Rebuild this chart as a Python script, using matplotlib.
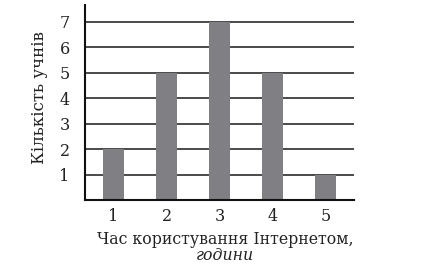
import matplotlib
matplotlib.use("agg")
import matplotlib.pyplot as plt

hours = [1, 2, 3, 4, 5]
students = [2, 5, 7, 5, 1]
y_ticks = [1, 2, 3, 4, 5, 6, 7]

plt.rcParams["font.family"] = ["DejaVu Serif"]

fig = plt.figure(figsize=(4.28, 2.70), dpi=100)
ax = fig.add_axes([85 / 428, 70 / 270, 269 / 428, 195 / 270])

for y in y_ticks:
    ax.axhline(y, color="#2b2b2b", linewidth=1.2, zorder=1)
ax.bar(hours, students, width=0.4, color="#808084", zorder=2)

ax.set_xlim(0.46, 5.54)
ax.set_ylim(0, 7.65)
ax.set_xticks(hours)
ax.set_yticks(y_ticks)
ax.tick_params(length=0, labelsize=11.5, colors="#222222")
ax.tick_params(axis="y", pad=11)
ax.tick_params(axis="x", pad=6)

for side in ["top", "right"]:
    ax.spines[side].set_visible(False)
for side in ["left", "bottom"]:
    ax.spines[side].set_linewidth(1.5)
    ax.spines[side].set_color("#111111")

fig.text(225 / 428, 1 - 239 / 270, "Час користування Інтернетом,",
         ha="center", va="center", fontsize=11.3, color="#222222")
fig.text(225 / 428, 1 - 256 / 270, "години", ha="center", va="center",
         fontsize=11.3, style="italic", color="#222222")
fig.text(40 / 428, 1 - 98 / 270, "Кількість учнів", ha="center", va="center",
         rotation=90, fontsize=12, color="#222222")

fig.savefig("out.png", dpi=100)
